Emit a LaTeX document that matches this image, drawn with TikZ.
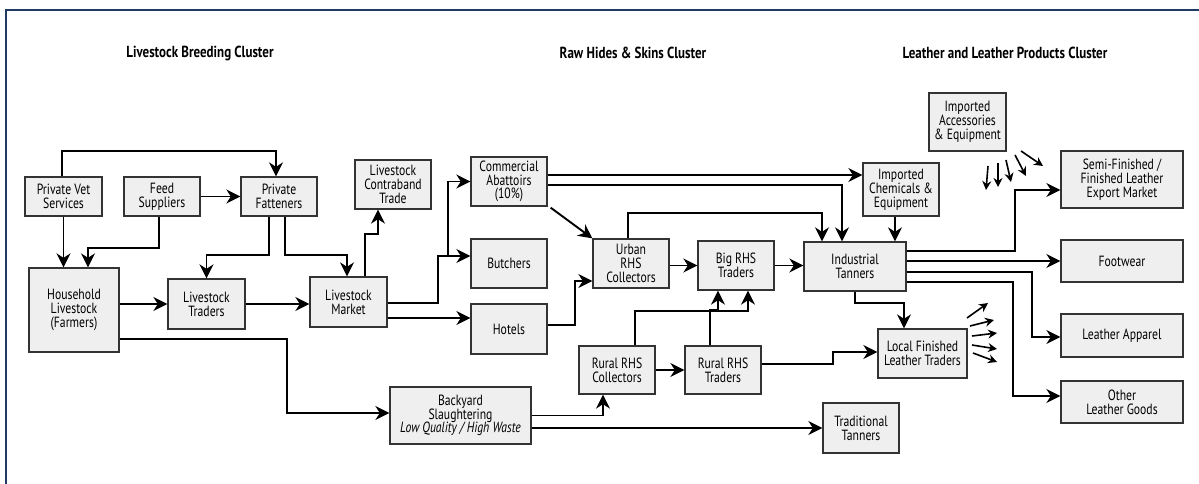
\documentclass[tikz,border=0pt]{standalone}
\usepackage{fontspec}
\setmainfont{PT Sans}[FakeStretch=0.79]
\newfontfamily\clfont{PT Sans}[FakeStretch=0.81]
\usetikzlibrary{arrows.meta}
\definecolor{boxfill}{HTML}{EFEFEF}
\definecolor{boxline}{HTML}{333333}
\definecolor{frameblue}{HTML}{1F3A63}
\tikzset{
  bx/.style 2 args={draw=boxline, fill=boxfill, line width=1.3pt, align=center,
    inner sep=1pt, minimum width=#1pt, minimum height=#2pt,
    font=\fontsize{14.8}{13.8}\selectfont},
  arr/.style={line width=1.9pt, draw=black, -{Stealth[length=14pt,width=14pt,inset=4.5pt]}},
  sarr/.style={line width=1.6pt, draw=black, -{Stealth[length=9pt,width=9pt,inset=3pt]}},
  clab/.style={font=\clfont\fontsize{16}{16}\selectfont\bfseries}
}
\begin{document}
\begin{tikzpicture}[x=1pt,y=-1pt]
\useasboundingbox (0,0) rectangle (1199,484);
\draw[frameblue, line width=1.3pt] (6,490) -- (6,10) -- (1205,10);

% cluster labels
\node[clab] (cl1) at (200,53) {Livestock Breeding Cluster};
\node[clab] (cl2) at (633,53) {Raw Hides \& Skins Cluster};
\node[clab] (cl3) at (1005,53) {Leather and Leather Products Cluster};

% boxes
\node[bx={77}{39}] (pvs) at (63.5,196.5) {Private Vet\\Services};
\node[bx={76}{39}] (fs) at (162,196.5) {Feed\\Suppliers};
\node[bx={76}{39}] (pf) at (279,196.5) {Private\\Fatteners};
\node[bx={76}{49}] (lct) at (393,184.5) {Livestock\\Contraband\\Trade};
\node[bx={90}{84}] (hh) at (74,310) {Household\\Livestock\\(Farmers)};
\node[bx={77}{50}] (lt) at (206.5,304) {Livestock\\Traders};
\node[bx={77}{50}] (lm) at (348.5,302) {Livestock\\Market};
\node[bx={76}{49}] (ca) at (509,181.5) {Commercial\\Abattoirs\\(10\%)};
\node[bx={76}{49}] (bu) at (509,263.5) {Butchers};
\node[bx={76}{50}] (ho) at (509,329) {Hotels};
\node[bx={76}{49}] (uc) at (631,263.5) {Urban\\RHS\\Collectors};
\node[bx={76}{49}] (bt) at (736,265.5) {Big RHS\\Traders};
\node[bx={102}{49}] (it) at (855,266.5) {Industrial\\Tanners};
\node[bx={76}{53}] (ice) at (901,189.5) {Imported\\Chemicals \&\\Equipment};
\node[bx={77}{58}] (iae) at (967.5,122) {Imported\\Accessories\\\& Equipment};
\node[bx={122}{57}] (sf) at (1122,179.5) {Semi-Finished /\\Finished Leather\\Export Market};
\node[bx={122}{42}] (fw) at (1122,261) {Footwear};
\node[bx={122}{43}] (la) at (1122,335.5) {Leather Apparel};
\node[bx={122}{42}] (olg) at (1122,402) {Other\\Leather Goods};
\node[bx={76}{48}] (rc) at (617,370) {Rural RHS\\Collectors};
\node[bx={76}{48}] (rt) at (723,370) {Rural RHS\\Traders};
\node[bx={89}{49}] (lf) at (922.5,353.5) {Local Finished\\Leather Traders};
\node[bx={141}{57}] (bs) at (460.5,415.5) {Backyard\\Slaughtering\\\textit{Low Quality / High Waste}};
\node[bx={76}{50}] (tt) at (861,428) {Traditional\\Tanners};

% connectors
\draw[arr] ([xshift=-1.5pt]pvs.north) |- (276,151) -- ([xshift=-3pt]pf.north);
\draw[arr] (pvs.south) -- (pvs.south |- hh.north);
\draw[arr] ([xshift=-3pt]fs.south) -- ++(0,31) -| ([xshift=14pt]hh.north);
\draw[arr] (fs) -- (pf);
\draw[arr] ([xshift=-10pt]pf.south) -- ++(0,38) -| (lt.north);
\draw[arr] ([xshift=6pt]pf.south) -- ++(0,38) -| ([xshift=-1.5pt]lm.north);
\draw[arr] (hh.east |- lt.west) -- (lt.west);
\draw[arr] (lt.east) -- (lm.west |- lt.east);
\draw[arr] ([xshift=16.5pt]lm.north) -- ++(0,-42) -| ([xshift=-15pt]lct.south);
\draw[arr] ([yshift=-29pt]hh.east) -| (287,413) -- ([yshift=2.5pt]bs.west);
\draw[arr] ([yshift=-1pt]lm.east) -| (438,256) -- ([yshift=7.5pt]bu.west);
\draw[arr] (448,256) |- (ca.west);
\draw[arr] ([yshift=-16pt]lm.east) -- ([yshift=11pt]ho.west);
\draw[arr] ([yshift=4pt]ho.east) -| (575,281) -- ([yshift=-17.5pt]uc.west);
\draw[arr] ([xshift=3pt,yshift=-1pt]ca.south east) -- (uc.north west);
\draw[arr] ([yshift=6.5pt]ca.east) -- ([yshift=14.5pt]ice.west);
\draw[arr] ([yshift=-3.5pt]ca.east) -| ([xshift=-13pt]it.north);
\draw[arr] ([xshift=-3pt]uc.north) |- (822,213) -- ([xshift=-33pt]it.north);
\draw[arr] ([xshift=-6pt]ice.south) -- ([xshift=40pt]it.north);
\draw[arr] (uc.east |- bt.west) -- (bt.west);
\draw[arr] (bt.east) -- (it.west |- bt.east);
\draw[arr] ([xshift=18pt]rc.north) |- (748,311) -- ([xshift=12pt]bt.south);
\draw[arr] ([xshift=-13pt]rt.north) |- (718,310) -- ([xshift=-18pt]bt.south);
\draw[arr] (rc) -- (rt);
\draw[arr] (bs.east) -| ([xshift=-14pt]rc.south);
\draw[arr] ([yshift=-12.5pt]bs.east) -- (tt.west);
\draw[arr] ([yshift=6pt]rt.east) -| (833,352) -- ([yshift=1.5pt]lf.west);
\draw[arr] (it.south) |- (904,303) -- ([xshift=-18.5pt]lf.north);
\draw[arr] ([yshift=15.5pt]it.east) -| (1015,190) -- ([yshift=-10.5pt]sf.west);
\draw[arr] ([yshift=5.5pt]it.east) -- (fw.west);
\draw[arr] ([yshift=-5.5pt]it.east) -| (1032,337) -- ([yshift=-1.5pt]la.west);
\draw[arr] ([yshift=-15.5pt]it.east) -| (1013,396) -- ([yshift=6pt]olg.west);

% accessory arrows
\draw[sarr] (988,166) -- (986,190);
\draw[sarr] (998,163) -- (998,187);
\draw[sarr] (1006,160) -- (1011,182);
\draw[sarr] (1015,155) -- (1026,176);
\draw[sarr] (1021,151) -- (1043,166);
% local finished leather arrows
\draw[sarr] (967,318) -- (988,303);
\draw[sarr] (970,326) -- (994,320);
\draw[sarr] (972,336) -- (997,333);
\draw[sarr] (972,345) -- (997,349);
\draw[sarr] (973,353) -- (997,362);
\end{tikzpicture}
\end{document}
